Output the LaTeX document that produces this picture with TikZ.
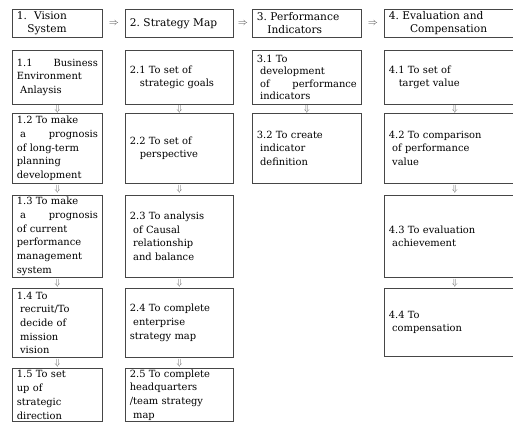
\documentclass[tikz,border=0pt]{standalone}
\usepackage{fontspec}
\setmainfont{DejaVu Serif}
\usetikzlibrary{positioning,calc}

\definecolor{linegray}{RGB}{70,70,70}
\definecolor{arrowgray}{RGB}{90,90,90}
\newcommand{\headfont}{\fontsize{10.6}{13}\selectfont}
\newcommand{\cellfont}{\fontsize{9.9}{13.7}\selectfont}
\newcommand{\tightfont}{\fontsize{9.9}{12.4}\selectfont}

\begin{document}
\begin{tikzpicture}[
  x=1pt, y=-1pt,
  cell/.style={draw=linegray, line width=0.7pt, rectangle, anchor=north west,
    inner xsep=4.5pt, inner ysep=0pt, align=left, font=\cellfont},
  head/.style={cell, font=\headfont, minimum height=28},
  down/.style={text=arrowgray, inner sep=0pt, font=\small},
  right/.style={text=linegray, inner sep=0pt, font=\normalsize}
]
\useasboundingbox (0,0) rectangle (513,422);

% -----------------------
% Layout parameters
% -----------------------
\def\xA{12}  \def\wA{81pt}
\def\xB{125} \def\wB{99pt}
\def\xC{252} \def\wC{100pt}
\def\xD{384} \def\wD{132pt}

\def\yH{9}
\def\yA{50}
\def\yB{113}
\def\yC{195}
\def\yD{288}
\def\yE{368}

% -----------------------
% Headers
% -----------------------
\node[head, text width=\wA] (h1) at (\xA,\yH) {1.\ \ Vision\\ \quad System};
\node[head, text width=\wB] (h2) at (\xB,\yH) {2.\ Strategy Map};
\node[head, text width=\wC] (h3) at (\xC,\yH) {3.\ Performance\\ \quad Indicators};
\node[head, text width=\wD] (h4) at (\xD,\yH) {4.\ Evaluation and\\ \qquad Compensation};

\node[right] at ($(h1.east)!0.5!(h2.west)$) {$\Rightarrow$};
\node[right] at ($(h2.east)!0.5!(h3.west)$) {$\Rightarrow$};
\node[right] at ($(h3.east)!0.5!(h4.west)$) {$\Rightarrow$};

% -----------------------
% Column 1: Vision System
% -----------------------
\node[cell, text width=\wA, minimum height=54] (v1) at (\xA,\yA)
  {1.1\hfill Business\\ Environment\\ \ Anlaysis};
\node[cell, text width=\wA, minimum height=70] (v2) at (\xA,\yB)
  {1.2 To make\\ \ a\hfill prognosis\\ of long-term\\ planning\\ development};
\node[cell, text width=\wA, minimum height=82] (v3) at (\xA,\yC)
  {1.3 To make\\ \ a\hfill prognosis\\ of current\\ performance\\ management\\ system};
\node[cell, text width=\wA, minimum height=69] (v4) at (\xA,\yD)
  {1.4 To\\ \ recruit/To\\ \ decide of\\ \ mission\\ \ vision};
\node[cell, text width=\wA, minimum height=53] (v5) at (\xA,\yE)
  {1.5 To set\\ up of\\ strategic\\ direction};

\node[down] at ($(v1.south)!0.5!(v2.north)$) {$\Downarrow$};
\node[down] at ($(v2.south)!0.5!(v3.north)$) {$\Downarrow$};
\node[down] at ($(v3.south)!0.5!(v4.north)$) {$\Downarrow$};
\node[down] at ($(v4.south)!0.5!(v5.north)$) {$\Downarrow$};

% -----------------------
% Column 2: Strategy Map
% -----------------------
\node[cell, text width=\wB, minimum height=54] (s1) at (\xB,\yA)
  {2.1 To set of\\ \quad strategic goals};
\node[cell, text width=\wB, minimum height=70] (s2) at (\xB,\yB)
  {2.2 To set of\\ \quad perspective};
\node[cell, text width=\wB, minimum height=82] (s3) at (\xB,\yC)
  {2.3 To analysis\\ \ of Causal\\ \ relationship\\ \ and balance};
\node[cell, text width=\wB, minimum height=69] (s4) at (\xB,\yD)
  {2.4 To complete\\ \ enterprise\\ strategy map};
\node[cell, text width=\wB, minimum height=53] (s5) at (\xB,\yE)
  {2.5 To complete\\ headquarters\\ /team strategy\\ \ map};

\node[down] at ($(s1.south)!0.5!(s2.north)$) {$\Downarrow$};
\node[down] at ($(s2.south)!0.5!(s3.north)$) {$\Downarrow$};
\node[down] at ($(s3.south)!0.5!(s4.north)$) {$\Downarrow$};
\node[down] at ($(s4.south)!0.5!(s5.north)$) {$\Downarrow$};

% -----------------------
% Column 3: Performance Indicators
% -----------------------
\node[cell, text width=\wC, minimum height=54, font=\tightfont] (p1) at (\xC,\yA)
  {3.1 To\\ \ development\\ \ of\hfill performance\\ \ indicators};
\node[cell, text width=\wC, minimum height=70] (p2) at (\xC,\yB)
  {3.2 To create\\ \ indicator\\ \ definition};

\node[down] at ($(p1.south)!0.5!(p2.north)$) {$\Downarrow$};

% -----------------------
% Column 4: Evaluation and Compensation
% -----------------------
\node[cell, text width=\wD, minimum height=54] (e1) at (\xD,\yA)
  {4.1 To set of\\ \quad target value};
\node[cell, text width=\wD, minimum height=70] (e2) at (\xD,\yB)
  {4.2 To comparison\\ \ of performance\\ \ value};
\node[cell, text width=\wD, minimum height=82] (e3) at (\xD,\yC)
  {4.3 To evaluation\\ \ achievement};
\node[cell, text width=\wD, minimum height=68] (e4) at (\xD,\yD)
  {4.4 To\\ \ compensation};

\node[down] at ($(e1.south)!0.5!(e2.north)$) {$\Downarrow$};
\node[down] at ($(e2.south)!0.5!(e3.north)$) {$\Downarrow$};
\node[down] at ($(e3.south)!0.5!(e4.north)$) {$\Downarrow$};

\end{tikzpicture}
\end{document}
